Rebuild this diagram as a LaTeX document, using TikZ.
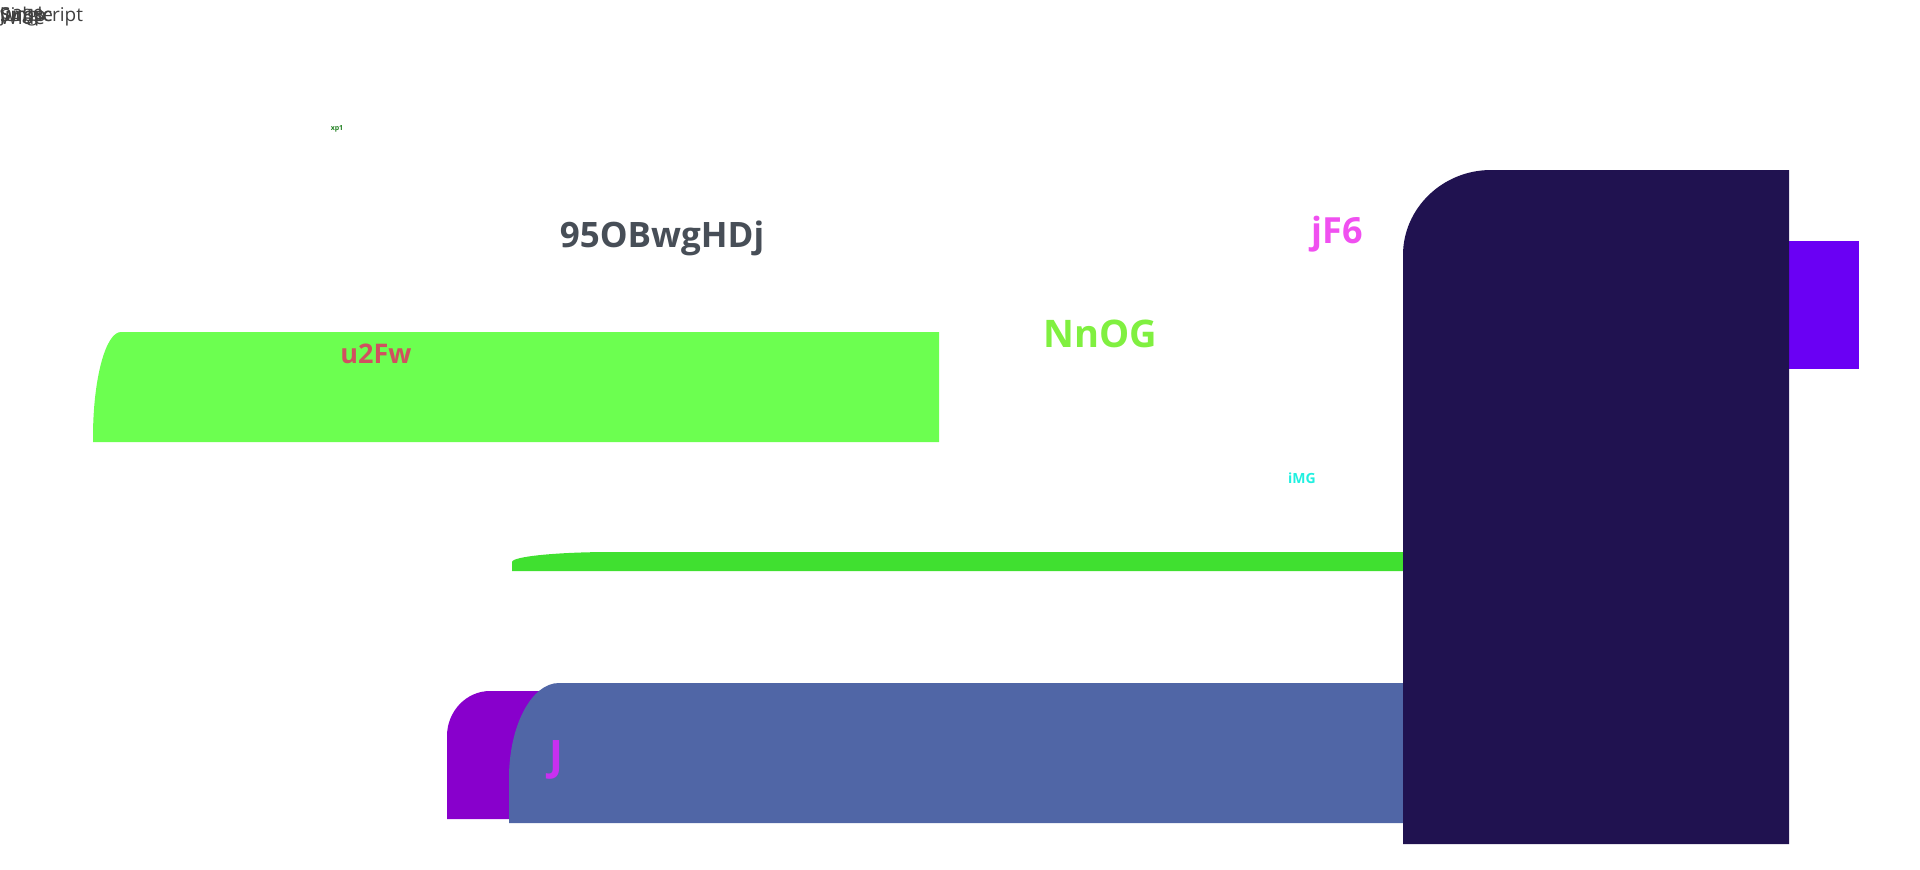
\documentclass[tikz,border=0pt]{standalone}
\usepackage{fontspec}
\setmainfont{Open Sans}
\usetikzlibrary{positioning}

\definecolor{lawn}{HTML}{6CFF50}
\definecolor{leaf}{HTML}{40E030}
\definecolor{plum}{HTML}{8800CC}
\definecolor{steel}{HTML}{5066A6}
\definecolor{night}{HTML}{201250}
\definecolor{violet}{HTML}{6A00F4}
\definecolor{slate}{HTML}{474E57}
\definecolor{rose}{HTML}{D05060}
\definecolor{pinkish}{HTML}{F050F0}
\definecolor{lime}{HTML}{80F040}
\definecolor{aqua}{HTML}{20F0E0}
\definecolor{moss}{HTML}{208020}
\definecolor{orchid}{HTML}{C830F0}

% box with a rounded top left corner: colour, x1, y1, x2, y2, rx, ry
\newcommand{\cornerbox}[7]{%
    \fill[#1] (#2,#5) -- (#2,#3+#7) .. controls (#2,#3+0.45*#7) and (#2+0.45*#6,#3) .. (#2+#6,#3) -- (#4,#3) -- (#4,#5) -- cycle;}

\tikzset{
    lbl/.style={inner sep=0pt, font=\bfseries},
    jumble/.style={anchor=west, inner sep=0pt, text=black!75, font=\fontsize{19}{20}\selectfont}
}

\begin{document}
\begin{tikzpicture}[x=1pt, y=-1pt]
    \useasboundingbox (0,0) rectangle (1920,870);

    % Draw the boxes
    \cornerbox{lawn}{93}{332}{939}{442}{28}{105}
    \cornerbox{leaf}{512}{552}{1410}{571}{100}{10}
    \cornerbox{plum}{447}{691}{700}{819}{43}{45}
    \cornerbox{steel}{509}{683}{1410}{823}{50}{95}
    \fill[violet] (1789,241) rectangle (1859,369);
    \cornerbox{night}{1403}{170}{1789}{844}{88}{85}

    % Add the labels
    \foreach \name/\x/\y/\col/\size/\txt in {
        title/662/238/slate/35/95OBwgHDj,
        top/1337/234/pinkish/36/jF6,
        mid/1100/334/lime/38/NnOG,
        left/376/354/rose/27/u2Fw,
        small/1302/478/aqua/14/iMG,
        tiny/337/129/moss/7/xp1,
        jay/556/760/orchid/42/J} {
        \node[lbl, text=\col, font=\bfseries\fontsize{\size}{\size}\selectfont] (\name) at (\x,\y) {\txt};
    }

    % Overlapping words in the corner
    \foreach \w in {Wide,Single,page,jump,Subscript} {
        \node[jumble] (w\w) at (0,17) {\w};
    }
\end{tikzpicture}
\end{document}
